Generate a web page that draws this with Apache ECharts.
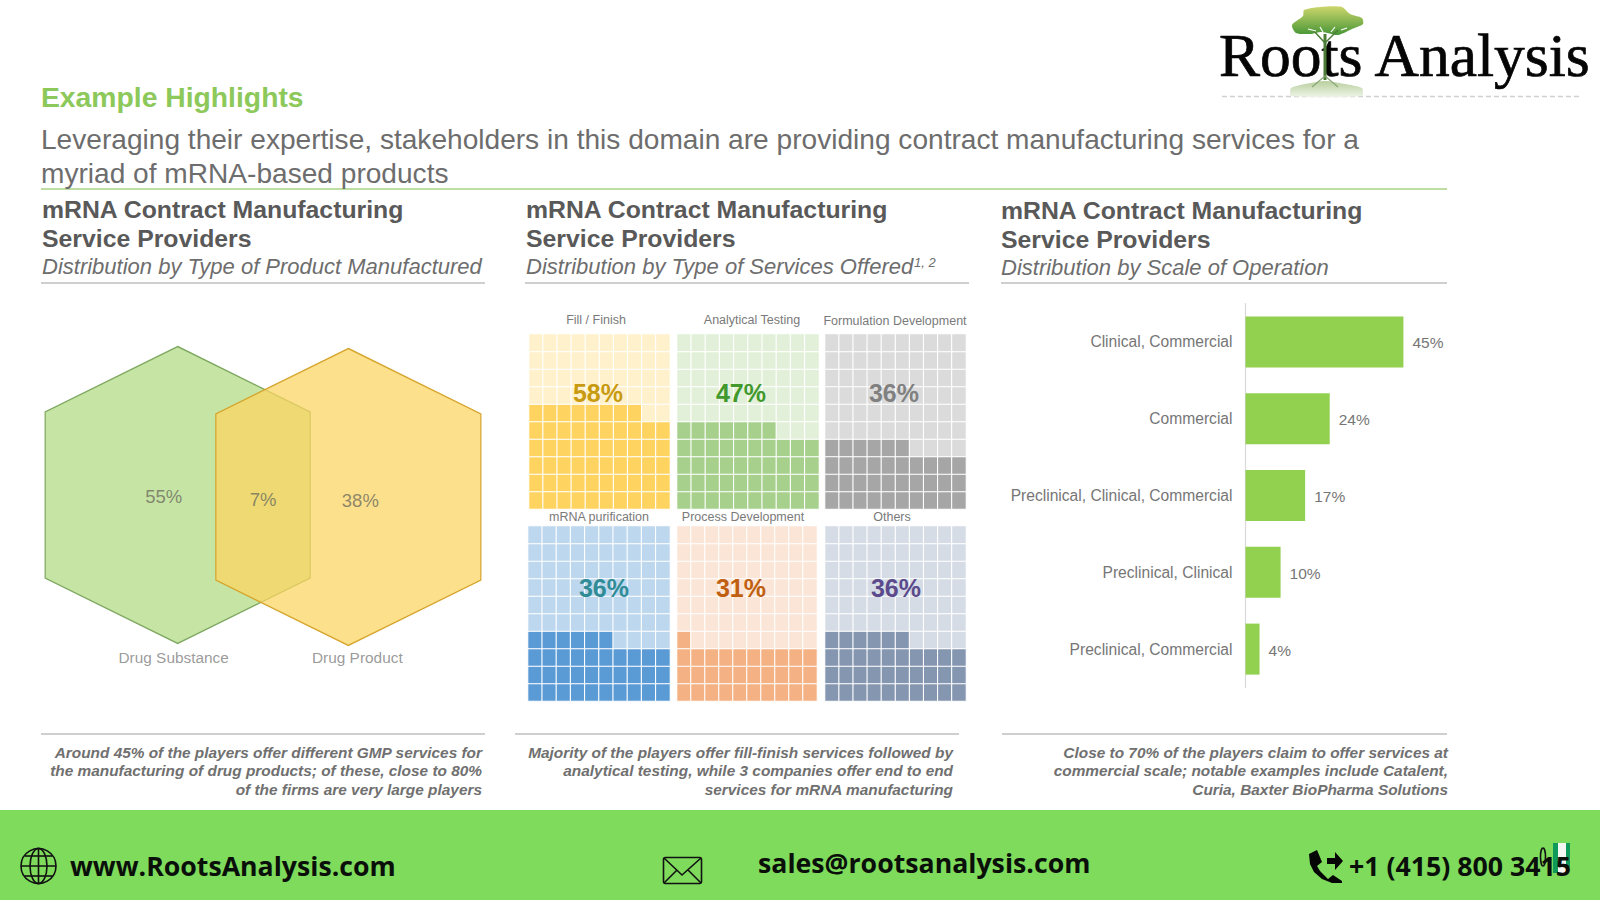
<!DOCTYPE html>
<html>
<head>
<meta charset="utf-8">
<title>mRNA Contract Manufacturing Service Providers</title>
<script src="https://cdn.jsdelivr.net/npm/echarts@6/dist/echarts.min.js"></script>
<style>
  html, body { margin: 0; padding: 0; background: #fff; }
  #chart { width: 1600px; height: 900px; }
</style>
</head>
<body>
<div id="chart"></div>
<script>
// venn
const vennNames = ['Drug Substance', 'Both', 'Drug Product'];
const vennShares = [55, 7, 38];

// waffles
const waffleNames = ['Fill / Finish', 'Analytical Testing', 'Formulation Development', 'mRNA purification', 'Process Development', 'Others'];
const waffleShares = [58, 47, 36, 36, 31, 36];

// bars
const scaleNames = ['Clinical, Commercial', 'Commercial', 'Preclinical, Clinical, Commercial', 'Preclinical, Clinical', 'Preclinical, Commercial'];
const scaleShares = [45, 24, 17, 10, 4];

const cellIndex = ['0', '1', '2', '3', '4', '5', '6', '7', '8', '9'];

const SANS = '"Liberation Sans", Arial, sans-serif';
const FOOT = '"Open Sans", "Noto Sans", sans-serif';
const hexPath = 'path://M50 0 L100 22 L100 78 L50 100 L0 78 L0 22 Z';

const waffleStyle = [
    { left: 529, top: 334, width: 141, height: 175, on: '#ffd35f', off: '#fff1cc', text: '#c89a10', labelX: 598, labelY: 393, nameX: 596, nameY: 320 },
    { left: 677, top: 334, width: 142, height: 175, on: '#a6d08c', off: '#e2f0d9', text: '#41982c', labelX: 741, labelY: 393, nameX: 752, nameY: 320 },
    { left: 825, top: 334, width: 141, height: 175, on: '#a6a6a6', off: '#dbdbdb', text: '#808080', labelX: 894, labelY: 393, nameX: 895, nameY: 321 },
    { left: 528, top: 526, width: 142, height: 175, on: '#5b9bd5', off: '#bdd7ee', text: '#2f8c96', labelX: 604, labelY: 588, nameX: 599, nameY: 517 },
    { left: 677, top: 526, width: 140, height: 175, on: '#f4b183', off: '#fbe5d6', text: '#c05f10', labelX: 741, labelY: 588, nameX: 743, nameY: 517 },
    { left: 825, top: 526, width: 141, height: 175, on: '#8496b0', off: '#d6dce5', text: '#5b4a8c', labelX: 896, labelY: 588, nameX: 892, nameY: 517 },
];

function text(x, y, str, size, fill, opt = {}) {
    const align = opt.align ?? 'left';
    return {
        type: 'text',
        z: opt.z ?? 50,
        style: {
            x, y, text: str, fill,
            stroke: opt.stroke, lineWidth: opt.lineWidth,
            font: `${opt.style ?? ''} ${opt.weight ?? ''} ${size}px ${opt.family ?? SANS}`,
            align, textAlign: align,
            verticalAlign: 'middle', textVerticalAlign: 'middle',
        },
    };
}

function rule(x1, x2, y, stroke, lineWidth) {
    return { type: 'line', z: 40, shape: { x1, y1: y, x2, y2: y }, style: { stroke, lineWidth } };
}

function line(x1, y1, x2, y2, stroke, lineWidth) {
    return { type: 'line', z: 52, shape: { x1, y1, x2, y2 }, style: { stroke, lineWidth } };
}

const grids = [], xAxes = [], yAxes = [], series = [];

// venn: three category slots, the hexagons sit on the outer two
grids.push({ left: 135, top: 345, width: 256, height: 300 });
xAxes.push({ type: 'category', gridIndex: 0, data: vennNames, show: false });
yAxes.push({ type: 'value', gridIndex: 0, min: 0, max: 1, show: false });

series.push({
    type: 'scatter', xAxisIndex: 0, yAxisIndex: 0, z: 2, silent: true,
    symbol: hexPath, symbolSize: [265, 297],
    itemStyle: { opacity: 1 },
    data: [
        { value: [vennNames[0], 0.5], itemStyle: { color: '#c6e5a4', borderColor: '#7fa862', borderWidth: 1.3 } },
        { value: [vennNames[2], 0.5], symbolOffset: [0, 2], itemStyle: { color: 'rgba(252,213,97,0.73)', borderColor: '#d6a52e', borderWidth: 1.3 } },
    ],
});
const vennOffsets = [[-14, 1], [0, 4], [12, 5]];
series.push({
    type: 'scatter', xAxisIndex: 0, yAxisIndex: 0, z: 3, silent: true,
    symbolSize: 1, itemStyle: { color: 'transparent' },
    data: vennNames.map((n, i) => ({
        value: [n, 0.5],
        label: { show: true, position: 'inside', offset: vennOffsets[i], formatter: vennShares[i] + '%', fontFamily: SANS, fontSize: 18.5, color: '#6f6f5f' },
    })),
});
const nameOffsets = [[-4, 12], null, [9, 12]];
series.push({
    type: 'scatter', xAxisIndex: 0, yAxisIndex: 0, z: 3, silent: true,
    symbolSize: 1, itemStyle: { color: 'transparent' },
    data: [0, 2].map((i) => ({
        value: [vennNames[i], 0],
        label: { show: true, position: 'inside', offset: nameOffsets[i], formatter: vennNames[i], fontFamily: SANS, fontSize: 15.4, color: '#7f7f7f' },
    })),
});

// waffles, filled from the bottom row up
waffleShares.forEach((share, w) => {
    const s = waffleStyle[w];
    const g = grids.length;
    grids.push({ left: s.left, top: s.top, width: s.width, height: s.height });
    xAxes.push({ type: 'category', gridIndex: g, data: cellIndex, show: false });
    yAxes.push({ type: 'category', gridIndex: g, data: cellIndex, show: false });
    const cells = [];
    cellIndex.forEach((r, ri) => cellIndex.forEach((c, ci) => {
        cells.push({
            value: [c, r, share],
            itemStyle: { color: ri * 10 + ci < share ? s.on : s.off },
        });
    }));
    series.push({
        type: 'heatmap', xAxisIndex: g, yAxisIndex: g, silent: true,
        itemStyle: { borderColor: '#fff', borderWidth: 1.1 },
        data: cells,
    });
});

// scale of operation bars
const barGrid = grids.length;
grids.push({ left: 1245.5, top: 303.5, width: 200, height: 384 });
xAxes.push({ type: 'value', gridIndex: barGrid, min: 0, max: 57, show: false });
yAxes.push({
    type: 'category', gridIndex: barGrid, inverse: true, data: scaleNames,
    axisLine: { lineStyle: { color: '#d9d9d9', width: 1.2 } },
    axisTick: { show: false },
    axisLabel: { margin: 13, fontFamily: SANS, fontSize: 15.6, color: '#767676' },
});
series.push({
    type: 'bar', xAxisIndex: barGrid, yAxisIndex: barGrid, silent: true,
    data: scaleShares, barWidth: 51,
    itemStyle: { color: '#92d050' },
    label: { show: true, position: 'right', distance: 9, formatter: '{c}%', fontFamily: SANS, fontSize: 15.5, color: '#767676', offset: [0, 1] },
});

// ---- page furniture ----
const furniture = [];

// footer band
furniture.push({ type: 'rect', z: 30, shape: { x: 0, y: 810, width: 1600, height: 90 }, style: { fill: '#7edb5c' } });

// logo
furniture.push({
    type: 'polygon', z: 44,
    shape: {
        smooth: 0.25,
        points: [[1292, 25], [1303, 16], [1304, 10], [1320, 7], [1342, 7], [1350, 14], [1362, 18], [1363, 24], [1352, 29], [1338, 35], [1322, 32], [1310, 34], [1296, 33]],
    },
    style: { fill: { type: 'linear', x: 0, y: 0, x2: 0, y2: 1, colorStops: [{ offset: 0, color: '#cdd66c' }, { offset: 1, color: '#479636' }] } },
});
furniture.push(line(1325, 34, 1325, 80, '#4c7d36', 3));
furniture.push(line(1325, 43, 1313, 30, '#4c7d36', 1.5));
furniture.push(line(1325, 43, 1338, 30, '#4c7d36', 1.5));
furniture.push(line(1308, 29, 1316, 31, '#ffffff', 1.2));
furniture.push(line(1320, 27, 1323, 32, '#ffffff', 1.2));
furniture.push(line(1331, 32, 1335, 27, '#ffffff', 1.2));
furniture.push(line(1341, 30, 1347, 28, '#ffffff', 1.2));
furniture.push({
    type: 'polygon', z: 44,
    shape: { smooth: 0.2, points: [[1291, 88], [1305, 84], [1325, 81], [1345, 84], [1362, 88], [1362, 96], [1291, 96]] },
    style: { fill: { type: 'linear', x: 0, y: 0, x2: 0, y2: 1, colorStops: [{ offset: 0, color: '#b8cf9e' }, { offset: 1, color: '#eef4e6' }] } },
});
furniture.push(line(1312, 87, 1325, 76, '#8aa777', 1.2));
furniture.push(line(1338, 87, 1325, 76, '#8aa777', 1.2));
furniture.push(text(1219, 55, 'Roots Analysis', 61.5, '#050505', { family: '"Liberation Serif", serif', z: 46, stroke: '#050505', lineWidth: 0.7 }));
furniture.push({ type: 'line', z: 40, shape: { x1: 1222, y1: 96.5, x2: 1582, y2: 96.5 }, style: { stroke: '#d0d0d0', lineWidth: 1.5, lineDash: [5, 3] } });

// headings
furniture.push(text(41, 97, 'Example Highlights', 28.3, '#8cc85a', { weight: 'bold' }));
furniture.push(text(41, 139, 'Leveraging their expertise, stakeholders in this domain are providing contract manufacturing services for a', 28.1, '#6d6d6d'));
furniture.push(text(41, 173, 'myriad of mRNA-based products', 28.1, '#6d6d6d'));
furniture.push(rule(41, 1447, 189, '#a9d283', 1.6));

const titleLines = ['mRNA Contract Manufacturing', 'Service Providers'];
const subtitles = ['Distribution by Type of Product Manufactured', 'Distribution by Type of Services Offered', 'Distribution by Scale of Operation'];
const columnLeft = [42, 526, 1001];
const columnRule = [[41, 485], [525, 969], [1001, 1447]];
const columnTop = [0, 0, 1];
subtitles.forEach((sub, i) => {
    const x = columnLeft[i], dy = columnTop[i];
    furniture.push(text(x, 209 + dy, titleLines[0], 24.8, '#595959', { weight: 'bold' }));
    furniture.push(text(x, 238 + dy, titleLines[1], 24.8, '#595959', { weight: 'bold' }));
    furniture.push(text(x, 266 + dy, sub, 22, '#6d6d6d', { style: 'italic' }));
    furniture.push(rule(columnRule[i][0], columnRule[i][1], 283, '#cfcfcf', 2));
});
furniture.push(text(914, 262, '1, 2', 13, '#6d6d6d', { style: 'italic' }));

// footnotes
const footRule = [[41, 485], [515, 959], [1002, 1447]];
const footRight = [482, 953, 1448];
const footnotes = [
    ['Around 45% of the players offer different GMP services for', 'the manufacturing of drug products; of these, close to 80%', 'of the firms are very large players'],
    ['Majority of the players offer fill-finish services followed by', 'analytical testing, while 3 companies offer end to end', 'services for mRNA manufacturing'],
    ['Close to 70% of the players claim to offer services at', 'commercial scale; notable examples include Catalent,', 'Curia, Baxter BioPharma Solutions'],
];
footnotes.forEach((rows, i) => {
    furniture.push(rule(footRule[i][0], footRule[i][1], 734, '#cfcfcf', 2));
    rows.forEach((row, j) => {
        furniture.push(text(footRight[i], 752 + j * 18.7, row, 15.4, '#707070', { style: 'italic', weight: 'bold', align: 'right' }));
    });
});

// waffle captions
waffleNames.forEach((name, i) => {
    const s = waffleStyle[i];
    furniture.push(text(s.nameX, s.nameY, name, 12.5, '#7a7a7a', { align: 'center' }));
    furniture.push(text(s.labelX, s.labelY, waffleShares[i] + '%', 25, s.text, { weight: 'bold', align: 'center' }));
});

// footer text
furniture.push(text(70, 865, 'www.RootsAnalysis.com', 26.7, '#0a0f0a', { weight: 'bold', family: FOOT }));
furniture.push(text(758, 862, 'sales@rootsanalysis.com', 26.7, '#0a0f0a', { weight: 'bold', family: FOOT }));
furniture.push(text(1349, 865, '+1 (415) 800 3415', 26.7, '#0a0f0a', { weight: 'bold', family: FOOT }));

// globe icon
const iconStroke = { stroke: '#111', fill: 'none', lineWidth: 1.6 };
furniture.push({ type: 'circle', z: 52, shape: { cx: 38.5, cy: 866, r: 17.5 }, style: iconStroke });
furniture.push({ type: 'ellipse', z: 52, shape: { cx: 38.5, cy: 866, rx: 8.5, ry: 17.5 }, style: iconStroke });
furniture.push(line(38.5, 848.5, 38.5, 883.5, '#111', 1.6));
furniture.push(line(21, 866, 56, 866, '#111', 1.6));
furniture.push(line(25, 856, 52, 856, '#111', 1.6));
furniture.push(line(25, 876, 52, 876, '#111', 1.6));

// envelope icon
furniture.push({ type: 'rect', z: 52, shape: { x: 663.5, y: 857.5, width: 38, height: 26, r: 2 }, style: iconStroke });
furniture.push({ type: 'polyline', z: 52, shape: { points: [[664, 858], [682, 875], [701, 858]] }, style: iconStroke });
furniture.push(line(664, 883, 677, 870, '#111', 1.6));
furniture.push(line(701, 883, 688, 870, '#111', 1.6));

// phone icon
furniture.push({
    type: 'polygon', z: 52,
    shape: { points: [[1309, 854], [1317, 850], [1322, 862], [1317, 866], [1320, 871], [1325, 876], [1328, 879], [1333, 875], [1342, 881], [1342, 883], [1332, 883], [1322, 879], [1314, 872], [1310, 864]] },
    style: { fill: '#050505' },
});
furniture.push({
    type: 'polygon', z: 52,
    shape: { points: [[1327, 858], [1335, 858], [1335, 852], [1343, 861], [1335, 870], [1335, 864], [1327, 864]] },
    style: { fill: '#050505' },
});

// flag mark behind the phone number
furniture.push({ type: 'rect', z: 48, shape: { x: 1553, y: 843, width: 5, height: 30 }, style: { fill: '#0f9a5a' } });
furniture.push({ type: 'rect', z: 48, shape: { x: 1558, y: 843, width: 8, height: 32 }, style: { fill: '#f4f7f1' } });
furniture.push({ type: 'rect', z: 48, shape: { x: 1566, y: 843, width: 4, height: 24 }, style: { fill: '#0f9a5a' } });
furniture.push({ type: 'ellipse', z: 54, shape: { cx: 1543, cy: 857, rx: 2.5, ry: 9 }, style: { stroke: '#111', fill: 'none', lineWidth: 1.6 } });

const chart = echarts.init(document.getElementById('chart'), null, { renderer: 'svg' });
chart.setOption({
    animation: false,
    backgroundColor: '#fff',
    grid: grids,
    xAxis: xAxes,
    yAxis: yAxes,
    series,
    graphic: { elements: furniture },
});
</script>
</body>
</html>
